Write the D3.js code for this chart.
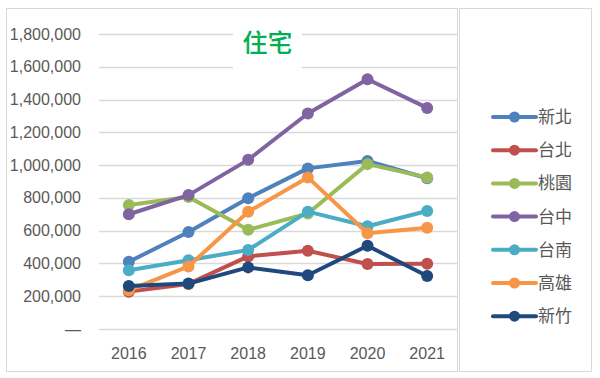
<!DOCTYPE html>
<html>
<head>
<meta charset="utf-8">
<script src="https://cdn.jsdelivr.net/npm/d3@7"></script>
<style>
  body { margin: 0; background: #fff; }
  text { font-family: "Liberation Sans", Arial, "Noto Sans CJK TC", sans-serif; }
</style>
</head>
<body>
<div id="chart-area"></div>
<script>
var years = ["2016", "2017", "2018", "2019", "2020", "2021"];
var seriesNames = ["新北", "台北", "桃園", "台中", "台南", "高雄", "新竹"];
var seriesColors = ["#4F81BD", "#C0504D", "#9BBB59", "#8064A2", "#4BACC6", "#F79646", "#1F497D"];
var xinbei = [410000, 592000, 798000, 980000, 1025000, 920000];
var taibei = [228000, 275000, 443000, 477000, 397000, 398000];
var taoyuan = [756000, 805000, 605000, 705000, 1006000, 925000];
var taizhong = [700000, 817000, 1032000, 1315000, 1524000, 1349000];
var tainan = [358000, 420000, 482000, 716000, 627000, 720000];
var gaoxiong = [236000, 382000, 715000, 925000, 584000, 618000];
var xinzhu = [262000, 277000, 376000, 328000, 508000, 323000];
var yTicks = [0, 200000, 400000, 600000, 800000, 1000000, 1200000, 1400000, 1600000, 1800000];
var chartTitle = "住宅";

var seriesValues = [xinbei, taibei, taoyuan, taizhong, tainan, gaoxiong, xinzhu];
var data = seriesNames.map(function (name, i) {
    return { name: name, color: seriesColors[i], values: seriesValues[i] };
});

var width = 600, height = 378;
var svg = d3.select("#chart-area")
    .append("svg")
    .attr("width", width)
    .attr("height", height);

// outer frames
svg.append("rect")
    .attr("x", 6.5).attr("y", 8.5)
    .attr("width", 451).attr("height", 363)
    .attr("fill", "#fff")
    .attr("stroke", "#D9D9D9");
svg.append("rect")
    .attr("x", 459.5).attr("y", 8.5)
    .attr("width", 132).attr("height", 363)
    .attr("fill", "#fff")
    .attr("stroke", "#D9D9D9");

var x = d3.scaleBand()
    .domain(years)
    .range([99, 457]);

var y = d3.scaleLinear()
    .domain([0, 1800000])
    .range([329, 34]);

// gridlines
svg.append("g")
    .selectAll("line")
    .data(yTicks)
    .enter()
    .append("line")
    .attr("x1", 99)
    .attr("x2", 457)
    .attr("y1", d => Math.round(y(d)) + 0.5)
    .attr("y2", d => Math.round(y(d)) + 0.5)
    .attr("stroke", "#D9D9D9")
    .attr("stroke-width", 1.5);

// y labels
svg.append("g")
    .selectAll("text")
    .data(yTicks)
    .enter()
    .append("text")
    .attr("x", 81)
    .attr("y", d => y(d))
    .attr("dy", "0.35em")
    .attr("text-anchor", "end")
    .attr("font-size", "16px")
    .attr("fill", "#595959")
    .text(d => d === 0 ? "—" : d3.format(",")(d));

// x labels
svg.append("g")
    .selectAll("text")
    .data(years)
    .enter()
    .append("text")
    .attr("x", d => x(d) + x.bandwidth() / 2)
    .attr("y", 353)
    .attr("dy", "0.35em")
    .attr("text-anchor", "middle")
    .attr("font-size", "16px")
    .attr("fill", "#595959")
    .text(d => d);

// title with white box
svg.append("rect")
    .attr("x", 233).attr("y", 24)
    .attr("width", 69).attr("height", 46)
    .attr("fill", "#fff");
svg.append("text")
    .attr("x", 267.5)
    .attr("y", 43)
    .attr("dy", "0.35em")
    .attr("text-anchor", "middle")
    .attr("font-size", "25px")
    .attr("font-weight", "500")
    .attr("font-family", "Noto Sans CJK TC")
    .attr("fill", "#00B050")
    .text(chartTitle);

var line = d3.line()
    .x((d, i) => x(years[i]) + x.bandwidth() / 2)
    .y(d => y(d));

var series = svg.append("g")
    .selectAll("g")
    .data(data)
    .enter()
    .append("g");

series.append("path")
    .attr("d", d => line(d.values))
    .attr("fill", "none")
    .attr("stroke", d => d.color)
    .attr("stroke-width", 4)
    .attr("stroke-linejoin", "round");

series.selectAll("circle")
    .data(d => d.values.map(v => ({ v: v, color: d.color })))
    .enter()
    .append("circle")
    .attr("cx", (d, i) => x(years[i]) + x.bandwidth() / 2)
    .attr("cy", d => y(d.v))
    .attr("r", 6)
    .attr("fill", d => d.color);

// legend
var legend = svg.append("g")
    .selectAll("g")
    .data(data)
    .enter()
    .append("g")
    .attr("transform", (d, i) => `translate(0, ${117 + i * 33.2})`);

legend.append("line")
    .attr("x1", 493).attr("x2", 536)
    .attr("y1", 0).attr("y2", 0)
    .attr("stroke", d => d.color)
    .attr("stroke-width", 4)
    .attr("stroke-linecap", "round");

legend.append("circle")
    .attr("cx", 514.5).attr("cy", 0)
    .attr("r", 5.5)
    .attr("fill", d => d.color);

legend.append("text")
    .attr("x", 538)
    .attr("y", 0)
    .attr("dy", "0.35em")
    .attr("font-size", "17px")
    .attr("font-family", "Noto Sans CJK TC")
    .attr("fill", "#595959")
    .text(d => d.name);
</script>
</body>
</html>
